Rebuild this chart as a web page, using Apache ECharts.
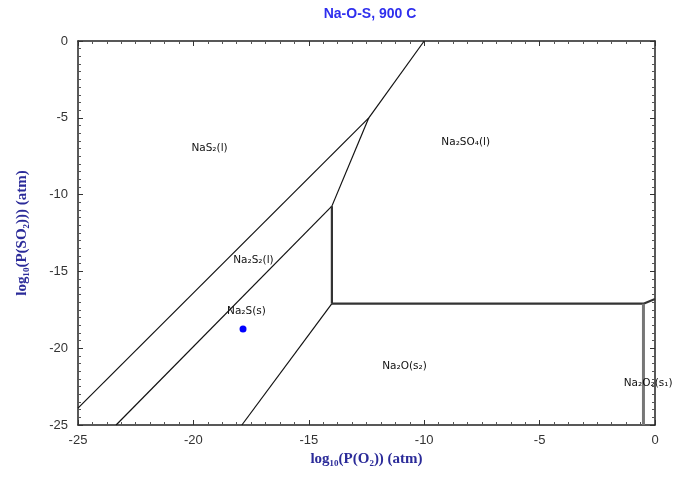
<!DOCTYPE html>
<html>
<head>
<meta charset="utf-8">
<script src="https://cdn.jsdelivr.net/npm/echarts@6/dist/echarts.min.js"></script>
<style>
  html, body { margin: 0; padding: 0; background: #fff; }
  #chart { width: 675px; height: 479px; }
</style>
</head>
<body>
<div id="chart"></div>
<script>
// phase boundaries, [log10 P(O2), log10 P(SO2)]
var topLine = [[-12.4, -5], [-10, 0]]
var nas2Line = [[-25, -23.9], [-12.4, -5]]
var sulfateLine = [[-14, -10.75], [-12.4, -5]]
var na2s2Line = [[-23.35, -25], [-14, -10.75]]
var na2sLine = [[-17.9, -25], [-14, -17.1]]
var vertLine = [[-14, -10.75], [-14, -17.1]]
var horizLine = [[-14, -17.1], [-0.5, -17.1], [0, -16.8]]
var peroxLine = [[-0.5, -17.1], [-0.5, -25]]
var point = [[-17.85, -18.75]]

var regionLabels = [
  [-19.3, -7.0, 'NaS₂(l)'],
  [-8.2, -6.6, 'Na₂SO₄(l)'],
  [-17.4, -14.3, 'Na₂S₂(l)'],
  [-17.7, -17.6, 'Na₂S(s)'],
  [-10.85, -21.2, 'Na₂O(s₂)'],
  [-0.3, -22.3, 'Na₂O₂(s₁)']
]

var xTicks = [-25, -20, -15, -10, -5, 0]
var yTicks = [-25, -20, -15, -10, -5, 0]

function boundary (data, width, color) {
  return {
    type: 'line',
    data: data,
    symbol: 'none',
    silent: true,
    lineStyle: { color: color || '#111', width: width || 1.2 },
    z: 3
  }
}

var myChart = echarts.init(document.getElementById('chart'))
var axisFont = { color: '#333', fontSize: 13, fontFamily: 'Liberation Sans, Arial, sans-serif' }
var nameFont = { color: '#2b2b99', fontSize: 15, fontWeight: 'bold', fontFamily: 'Liberation Serif, Times New Roman, serif' }

function xAx (pos, labels) {
  return {
    type: 'value',
    position: pos,
    min: xTicks[0],
    max: xTicks[xTicks.length - 1],
    interval: 5,
    name: labels ? 'log₁₀(P(O₂)) (atm)' : '',
    nameLocation: 'middle',
    nameGap: 27,
    nameTextStyle: nameFont,
    axisLine: { show: true, onZero: false, lineStyle: { color: '#222', width: 1.5 } },
    axisTick: { show: true, inside: true, length: 5, lineStyle: { color: '#333' } },
    minorTick: { show: true, splitNumber: 8, length: 3, lineStyle: { color: '#555' } },
    axisLabel: Object.assign({ show: labels, margin: 9 }, axisFont),
    splitLine: { show: false }
  }
}

function yAx (pos, labels) {
  return {
    type: 'value',
    position: pos,
    min: yTicks[0],
    max: yTicks[yTicks.length - 1],
    interval: 5,
    name: labels ? 'log₁₀(P(SO₂))) (atm)' : '',
    nameLocation: 'middle',
    nameGap: 48,
    nameTextStyle: nameFont,
    axisLine: { show: true, onZero: false, lineStyle: { color: '#222', width: 1.5 } },
    axisTick: { show: true, inside: true, length: 5, lineStyle: { color: '#333' } },
    minorTick: { show: true, splitNumber: 10, length: 3, lineStyle: { color: '#555' } },
    axisLabel: Object.assign({ show: labels, margin: 10 }, axisFont),
    splitLine: { show: false }
  }
}

var option = {
  animation: false,
  title: {
    text: 'Na-O-S, 900 C',
    left: 365,
    textAlign: 'center',
    top: 2,
    textStyle: { color: '#2f2fee', fontSize: 14, fontWeight: 'bold', fontFamily: 'Liberation Sans, Arial, sans-serif' }
  },
  grid: { left: 78, right: 20, top: 41, bottom: 54 },
  xAxis: [xAx('bottom', true), xAx('top', false)],
  yAxis: [yAx('left', true), yAx('right', false)],
  series: [
    boundary(topLine),
    boundary(nas2Line),
    boundary(sulfateLine),
    boundary(na2s2Line),
    boundary(na2sLine),
    boundary(vertLine, 2.2, '#333'),
    boundary(horizLine, 2.2, '#333'),
    boundary(peroxLine, 3, '#777'),
    {
      type: 'scatter',
      data: point,
      symbolSize: 7,
      itemStyle: { color: '#0000ff', opacity: 1 },
      z: 4
    },
    {
      type: 'scatter',
      data: regionLabels,
      symbolSize: 0,
      silent: true,
      itemStyle: { opacity: 1 },
      label: {
        show: true,
        position: 'inside',
        formatter: function (p) { return p.data[2] },
        color: '#111',
        fontSize: 10.5,
        fontFamily: 'DejaVu Sans, sans-serif'
      },
      z: 5
    }
  ]
}
myChart.setOption(option)
</script>
</body>
</html>
